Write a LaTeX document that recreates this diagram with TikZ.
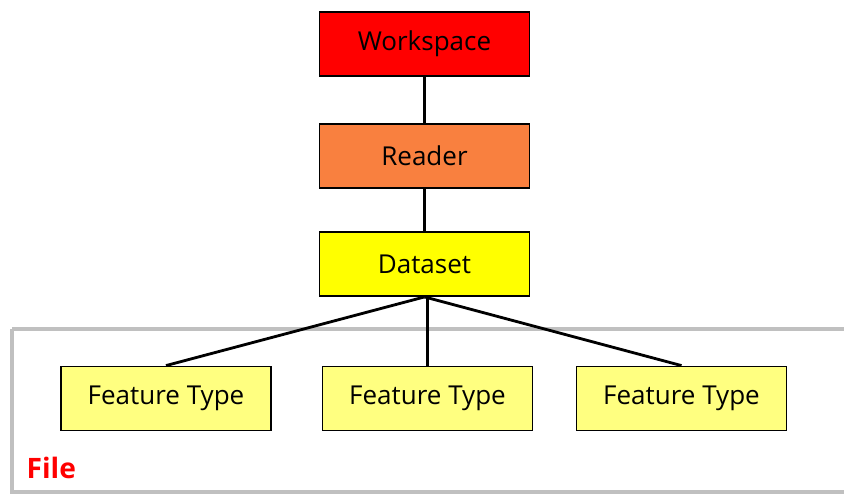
\documentclass[tikz,border=0pt]{standalone}
\usepackage{fontspec}
\setmainfont{Open Sans}
\usetikzlibrary{positioning}

\definecolor{wsred}{HTML}{FF0000}
\definecolor{rdorange}{HTML}{F9803F}
\definecolor{dsyellow}{HTML}{FFFF00}
\definecolor{ftyellow}{HTML}{FFFF80}
\definecolor{framegray}{HTML}{C0C0C0}

\begin{document}
\begin{tikzpicture}[
    x=0.025cm, y=-0.025cm,
    box/.style={
        draw,
        minimum width=5.25cm,
        minimum height=1.6cm,
        align=center,
        font=\fontsize{18.5}{22}\selectfont, % plain sans labels
        line width=1.3pt
    },
    link/.style={
        line width=2pt
    },
    frame/.style={
        draw=framegray,
        line width=2.2pt
    }
]
\useasboundingbox (0,0) rectangle (844,494);

% File frame (runs off to the right)
\draw [frame] (12,329) -- (850,329);
\draw [frame] (12,329) -- (12,492) -- (850,492);
\node (file) at (25,468) [anchor=west, inner sep=1pt, text=wsred, font=\fontsize{20}{24}\selectfont\bfseries] {File};

% Hierarchy
\node (ws) at (424.5,44)  [box, fill=wsred] {Workspace};
\node (rd) at (424.5,156) [box, fill=rdorange] {Reader};
\node (ds) at (424.5,264) [box, fill=dsyellow] {Dataset};

% Feature types
\node (ft1) at (166,398.5)   [box, fill=ftyellow] {Feature Type};
\node (ft2) at (427.5,398.5) [box, fill=ftyellow] {Feature Type};
\node (ft3) at (681.5,398.5) [box, fill=ftyellow] {Feature Type};

% Links
\draw [link] (ws.south) -- (rd.north);
\draw [link] (rd.south) -- (ds.north);
\draw [link] (ds.south) -- (ft1.north);
\draw [link] (ft2.north |- ds.south) -- (ft2.north);
\draw [link] (ds.south) -- (ft3.north);

\end{tikzpicture}
\end{document}
